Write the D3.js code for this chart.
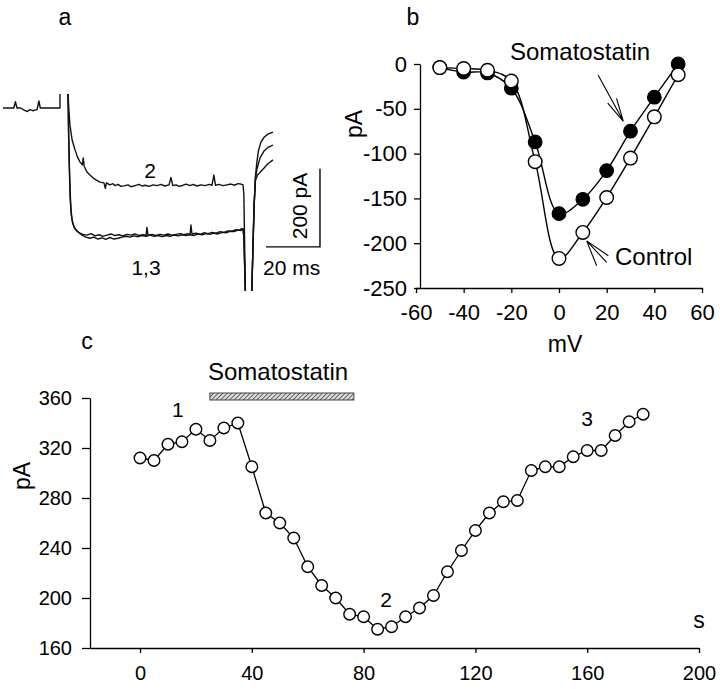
<!DOCTYPE html>
<html><head><meta charset="utf-8">
<script src="https://cdn.jsdelivr.net/npm/d3@7"></script>
<style>
body{margin:0;background:#fff}
svg{display:block}
text{font-family:"Liberation Sans",Arial,sans-serif;fill:#000}
</style>
</head><body>
<svg id="fig" width="720" height="689"></svg>
<script>
// ---------- Panel a: current traces (ms, pA) ----------
const traceBaseline = [[0,0],[4,0],[4.6,16],[5.2,0],[6.5,0],[8,-6],[9,-9],[10,-4],[11,-7],[12.6,-4],[13.3,18],[13.8,0],[21.1,0],[21.1,36]];
const trace2 = [[24.1,36],[24.4,-5],[24.8,-44],[25.6,-82],[26.7,-108],[27.6,-126],[28.5,-138],[29.4,-146],[29.7,-128],[30.1,-150],[31.1,-164],[32.2,-172],[33.3,-179],[34.6,-185],[35.9,-190],[37.4,-192],[37.9,-206],[38.3,-192],[39.6,-197],[40.7,-194],[41.5,-199],[42.6,-196],[43.7,-201],[45.2,-199],[46.3,-197],[47.4,-202],[48.9,-199],[50.4,-196],[51.5,-200],[52.6,-198],[54.1,-201],[55.6,-197],[57,-199],[58.5,-196],[60,-200],[61.5,-197],[62.2,-178],[62.9,-199],[64.1,-197],[65.2,-201],[66.7,-198],[67.8,-195],[69.3,-199],[70.4,-196],[71.9,-200],[73.3,-197],[74.8,-199],[76.3,-196],[77.4,-198],[78.1,-172],[78.7,-198],[80,-196],[81.5,-199],[83,-197],[84.4,-195],[85.9,-198],[87,-194],[88.1,-195],[88.9,-197],[89.2,-220],[89.8,-480],[92.1,-480],[93.0,-250],[93.5,-185],[94.3,-172],[95.2,-165],[96.7,-154],[98.1,-143],[100,-133]];
const trace1 = [[24.1,36],[24.3,-60],[24.6,-150],[24.9,-220],[25.2,-262],[25.6,-287],[26.3,-305],[27.4,-316],[28.5,-321],[29.6,-324],[31.1,-326],[32.6,-322],[34.1,-328],[35.6,-325],[37,-329],[38.5,-326],[40,-323],[41.5,-327],[43,-325],[44.4,-328],[45.9,-324],[47.4,-326],[48.9,-323],[50.4,-327],[51.9,-325],[53,-327],[53.3,-306],[53.7,-326],[55.2,-324],[56.7,-327],[58.1,-324],[59.6,-326],[61.1,-323],[62.6,-326],[64.1,-324],[65.6,-322],[67,-325],[68.5,-322],[69.3,-324],[69.6,-300],[70,-323],[71.5,-321],[73,-324],[74.4,-320],[75.9,-322],[77.4,-319],[78.9,-321],[80.4,-317],[81.9,-319],[83.3,-315],[84.8,-316],[86.3,-312],[87.4,-313],[88.5,-309],[88.9,-311],[89.2,-330],[89.8,-480],[92.1,-480],[93.0,-250],[93.5,-175],[94.0,-140],[94.6,-110],[95.5,-88],[96.7,-75],[98.1,-67],[100,-62]];
const trace3 = [[24.1,36],[24.3,-70],[24.6,-165],[24.9,-235],[25.3,-275],[25.8,-296],[26.7,-310],[27.8,-318],[29.3,-326],[30.7,-331],[32.2,-334],[33.7,-331],[35.2,-336],[36.7,-333],[38.1,-337],[39.6,-332],[41.1,-336],[42.6,-334],[44.1,-331],[45.6,-329],[47,-331],[48.5,-328],[50,-330],[51.5,-327],[53,-329],[54.4,-326],[55.9,-329],[57.4,-327],[58.9,-330],[60.4,-327],[61.9,-329],[63.3,-326],[64.8,-328],[66.3,-325],[67.8,-327],[69.3,-325],[70.7,-327],[72.2,-323],[73.7,-325],[75.2,-322],[76.7,-324],[78.1,-321],[79.6,-323],[81.1,-319],[82.6,-320],[84.1,-316],[85.6,-317],[87,-313],[88.1,-314],[88.9,-310],[89.2,-330],[89.8,-480],[92.1,-480],[93.0,-250],[93.5,-180],[94.1,-155],[95.2,-128],[96.7,-110],[98.1,-101],[100,-95]];
const scaleBarMs = 20, scaleBarPA = 200;

// ---------- Panel b: I-V relation ----------
const voltageMV = [-50,-40,-30,-20,-10,0,10,20,30,40,50];
const controlPA = [-4,-5,-7,-19,-109,-217,-188,-149,-105,-59,-12];
const somatostatinPA = [-4,-9,-10,-27,-87,-167,-151,-119,-75,-37,0];
const bTicksX = [-60,-40,-20,0,20,40,60];
const bTicksY = [0,-50,-100,-150,-200,-250];

// ---------- Panel c: time course ----------
const timeS = [0,5,10,15,20,25,30,35,40,45,50,55,60,65,70,75,80,85,90,95,100,105,110,115,120,125,130,135,140,145,150,155,160,165,170,175,180];
const currentPA = [312,310,323,325,335,326,336,340,305,268,260,248,225,210,200,187,185,175,177,185,192,202,221,238,254,268,277,278,302,305,305,313,318,318,330,341,347];
const cTicksX = [0,40,80,120,160,200];
const cTicksY = [160,200,240,280,320,360];
const somatostatinPeriod = [25,76.5];
const pointLabels = [{t:"1", x:13.5, y:345},{t:"2", x:88, y:193},{t:"3", x:160, y:338}];

const FONT = '"Liberation Sans",Arial,sans-serif';
const svg = d3.select('#fig');

// ===== Panel a =====
const ax = d3.scaleLinear().domain([0,100]).range([3,273]);
const ay = d3.scaleLinear().domain([0,-469]).range([108,108+469*0.39]);
svg.append('defs').append('clipPath').attr('id','clipA')
  .append('rect').attr('x',0).attr('y',ay(36)-1).attr('width',300).attr('height',ay(-469)-ay(36)+1);
const lineA = d3.line().x(d=>ax(d[0])).y(d=>ay(d[1]));
const ga = svg.append('g').attr('clip-path','url(#clipA)');
[traceBaseline, trace1, trace3, trace2].forEach(tr=>{
  ga.append('path').attr('d',lineA(tr)).attr('fill','none').attr('stroke','#111')
    .attr('stroke-width',1.4).attr('stroke-linejoin','round');
});
// scale bars
const sbT = 117.4, sbTop = -156;
svg.append('path')
  .attr('d',`M${ax(sbT-scaleBarMs)},${ay(sbTop-scaleBarPA)}H${ax(sbT)}V${ay(sbTop)}`)
  .attr('fill','none').attr('stroke','#000').attr('stroke-width',1.4);
svg.append('text').attr('x',263).attr('y',275).attr('font-size',21).text(scaleBarMs+' ms');
svg.append('text').attr('transform','translate(307,206) rotate(-90)').attr('text-anchor','middle')
  .attr('font-size',21).text(scaleBarPA+' pA');
svg.append('text').attr('x',150).attr('y',178).attr('text-anchor','middle').attr('font-size',21).text('2');
svg.append('text').attr('x',146).attr('y',275).attr('text-anchor','middle').attr('font-size',21).text('1,3');
svg.append('text').attr('x',65).attr('y',25).attr('text-anchor','middle').attr('font-size',23).text('a');

// ===== Panel b =====
const bx = d3.scaleLinear().domain([-60,60]).range([416,702]);
const by = d3.scaleLinear().domain([-250,0]).range([288,64]);
function styleAxis(g, fs){
  g.attr('font-family',FONT).attr('font-size',fs);
  g.select('.domain').attr('stroke','#000').attr('stroke-width',1.3);
  g.selectAll('.tick line').attr('stroke','#000').attr('stroke-width',1.3);
  g.selectAll('.tick text').attr('fill','#000');
}
svg.append('g').attr('transform','translate(0,288)')
  .call(d3.axisBottom(bx).tickValues(bTicksX).tickFormat(d=>String(d)).tickSize(5).tickPadding(11).tickSizeOuter(0))
  .call(g=>styleAxis(g,22));
svg.append('g').attr('transform','translate(420,0)')
  .call(d3.axisLeft(by).tickValues(bTicksY).tickFormat(d=>String(d)).tickSize(6).tickPadding(7).tickSizeOuter(0))
  .call(g=>styleAxis(g,22));
const lineB = d3.line().curve(d3.curveCatmullRom.alpha(0.5)).x(d=>bx(d[0])).y(d=>by(d[1]));
const somaPts = voltageMV.map((v,i)=>[v,somatostatinPA[i]]);
const ctrlPts = voltageMV.map((v,i)=>[v,controlPA[i]]);
[somaPts, ctrlPts].forEach(p=>{
  svg.append('path').attr('d',lineB(p)).attr('fill','none').attr('stroke','#000').attr('stroke-width',1.4);
});
svg.append('g').selectAll('circle').data(somaPts).join('circle')
  .attr('cx',d=>bx(d[0])).attr('cy',d=>by(d[1])).attr('r',6.8)
  .attr('fill','#000').attr('stroke','#000').attr('stroke-width',1.2);
svg.append('g').selectAll('circle').data(ctrlPts).join('circle')
  .attr('cx',d=>bx(d[0])).attr('cy',d=>by(d[1])).attr('r',6.8)
  .attr('fill','#fff').attr('stroke','#000').attr('stroke-width',1.4);
// arrows (annotation positions in data units)
function arrowLines(tip, ends){
  const t=[bx(tip[0]),by(tip[1])];
  return ends.map(e=>`M${t[0]},${t[1]}L${bx(e[0])},${by(e[1])}`).join('');
}
function arrowHead(tip, tail, len, ang){
  const t=[bx(tip[0]),by(tip[1])], s=[bx(tail[0]),by(tail[1])];
  const a=Math.atan2(s[1]-t[1], s[0]-t[0]);
  let d=`M${s[0]},${s[1]}L${t[0]},${t[1]}`;
  [ang,-ang].forEach(k=>{ d+=`M${t[0]},${t[1]}L${t[0]+len*Math.cos(a+k)},${t[1]+len*Math.sin(a+k)}`; });
  return d;
}
svg.append('path').attr('d',arrowHead([27,-64],[16.4,-12.2],24,0.21))
  .attr('fill','none').attr('stroke','#000').attr('stroke-width',1.1);
svg.append('path').attr('d',arrowLines([11.6,-197.4],[[20.7,-214],[20,-221.4],[15.8,-225.2]]))
  .attr('fill','none').attr('stroke','#000').attr('stroke-width',1.1);
svg.append('text').attr('x',510).attr('y',60).attr('font-size',24).text('Somatostatin');
svg.append('text').attr('x',615).attr('y',265).attr('font-size',24).text('Control');
svg.append('text').attr('transform','translate(362,124) rotate(-90)').attr('text-anchor','middle')
  .attr('font-size',23).text('pA');
svg.append('text').attr('x',565).attr('y',352).attr('text-anchor','middle').attr('font-size',23).text('mV');
svg.append('text').attr('x',413).attr('y',25).attr('text-anchor','middle').attr('font-size',23).text('b');

// ===== Panel c =====
const cx = d3.scaleLinear().domain([-17.9,200]).range([90,699]);
const cy = d3.scaleLinear().domain([160,360]).range([648,398]);
svg.append('g').attr('transform','translate(0,648)')
  .call(d3.axisBottom(cx).tickValues(cTicksX).tickSize(5).tickPadding(13).tickSizeOuter(0))
  .call(g=>styleAxis(g,20));
svg.append('g').attr('transform','translate(90,0)')
  .call(d3.axisLeft(cy).tickValues(cTicksY).tickSize(8).tickPadding(10).tickSizeOuter(0))
  .call(g=>styleAxis(g,20));
// hatched bar
const defs = svg.select('defs');
const pat = defs.append('pattern').attr('id','hatch').attr('patternUnits','userSpaceOnUse')
  .attr('width',3.2).attr('height',3.2).attr('patternTransform','rotate(45)');
pat.append('rect').attr('width',3.2).attr('height',3.2).attr('fill','#d8d8d8');
pat.append('line').attr('x1',0).attr('y1',0).attr('x2',0).attr('y2',3.2).attr('stroke','#333').attr('stroke-width',1.3);
svg.append('rect').attr('x',cx(somatostatinPeriod[0])).attr('y',393)
  .attr('width',cx(somatostatinPeriod[1])-cx(somatostatinPeriod[0])).attr('height',7)
  .attr('fill','url(#hatch)').attr('stroke','#444').attr('stroke-width',1);
svg.append('text').attr('x',208).attr('y',380).attr('font-size',24).text('Somatostatin');
const cPts = timeS.map((t,i)=>[t,currentPA[i]]);
svg.append('path').attr('d',d3.line().x(d=>cx(d[0])).y(d=>cy(d[1]))(cPts))
  .attr('fill','none').attr('stroke','#000').attr('stroke-width',1.3);
svg.append('g').selectAll('circle').data(cPts).join('circle')
  .attr('cx',d=>cx(d[0])).attr('cy',d=>cy(d[1])).attr('r',5.8)
  .attr('fill','#fff').attr('stroke','#000').attr('stroke-width',1.4);
pointLabels.forEach(l=>{
  svg.append('text').attr('x',cx(l.x)).attr('y',cy(l.y)).attr('text-anchor','middle').attr('font-size',21).text(l.t);
});
svg.append('text').attr('transform','translate(30,476) rotate(-90)').attr('text-anchor','middle')
  .attr('font-size',23).text('pA');
svg.append('text').attr('x',699).attr('y',628).attr('text-anchor','middle').attr('font-size',23).text('s');
svg.append('text').attr('x',87).attr('y',349).attr('text-anchor','middle').attr('font-size',23).text('c');
</script>
</body></html>
